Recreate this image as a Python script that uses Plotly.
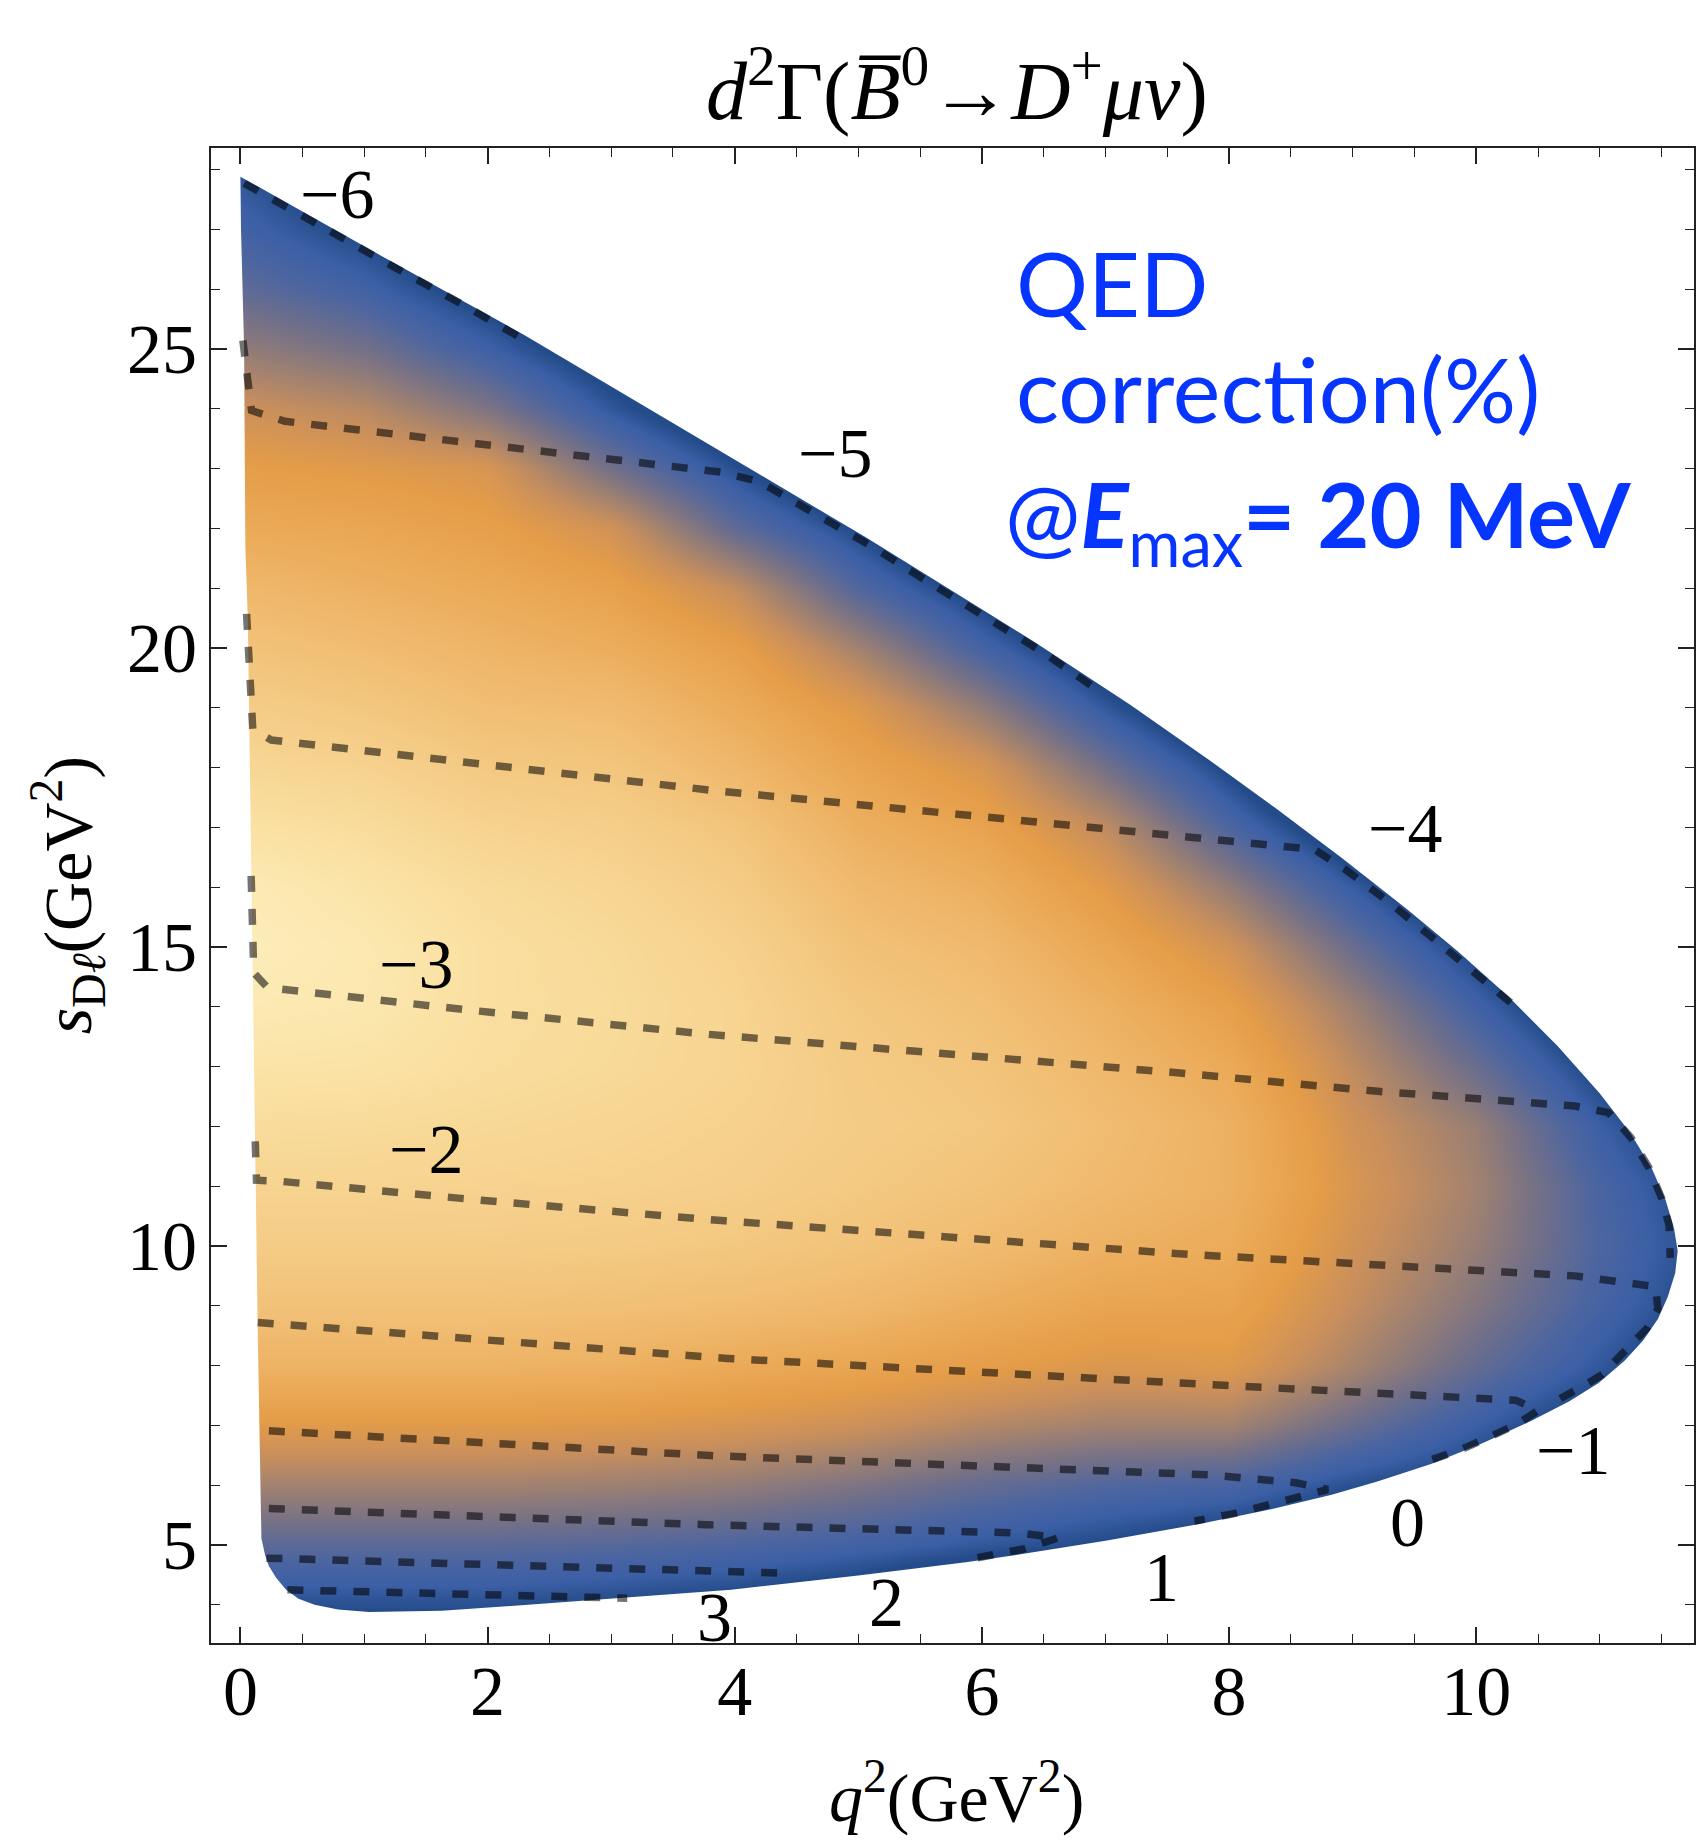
import plotly.graph_objects as go

# ---------------- values ----------------
# density-colour value (0 = blue rim, 1 = palest yellow) on a coarse grid
q2_nodes = [0, 1, 2, 3, 4, 5, 6, 7, 8, 9, 10, 11, 12]
s_nodes = [3, 4, 5, 6, 7, 8, 9, 10, 11, 12, 13, 14, 15, 16, 17, 18, 19, 20,
           21, 22, 23, 24, 25, 26, 27, 28, 29]

dens_q00 = [-0.10, 0.01, 0.13, 0.27, 0.41, 0.55, 0.64, 0.71, 0.77, 0.83, 0.89, 0.94, 0.97, 0.95,
            0.87, 0.79, 0.72, 0.65, 0.58, 0.50, 0.43, 0.35, 0.24, 0.14, 0.07, 0.02, -0.05]
dens_q01 = [-0.10, 0.01, 0.13, 0.27, 0.41, 0.55, 0.64, 0.71, 0.77, 0.82, 0.88, 0.92, 0.93, 0.89,
            0.83, 0.76, 0.68, 0.61, 0.54, 0.48, 0.41, 0.31, 0.18, 0.07, -0.02, -0.10, -0.20]
dens_q02 = [-0.10, 0.01, 0.13, 0.27, 0.41, 0.55, 0.64, 0.71, 0.76, 0.80, 0.84, 0.85, 0.85, 0.82,
            0.76, 0.69, 0.62, 0.56, 0.50, 0.44, 0.38, 0.20, 0.06, -0.05, -0.15, -0.25, -0.30]
dens_q03 = [-0.15, -0.01, 0.12, 0.26, 0.40, 0.54, 0.63, 0.70, 0.75, 0.78, 0.81, 0.82, 0.81, 0.78,
            0.73, 0.67, 0.60, 0.52, 0.45, 0.36, 0.18, 0.03, -0.08, -0.20, -0.30, -0.30, -0.30]
dens_q04 = [-0.18, -0.03, 0.10, 0.24, 0.38, 0.50, 0.61, 0.68, 0.73, 0.75, 0.77, 0.77, 0.75, 0.71,
            0.66, 0.58, 0.51, 0.44, 0.33, 0.14, 0.01, -0.12, -0.25, -0.30, -0.30, -0.30, -0.30]
dens_q05 = [-0.22, -0.08, 0.07, 0.20, 0.35, 0.47, 0.58, 0.65, 0.69, 0.71, 0.70, 0.68, 0.64, 0.59,
            0.53, 0.47, 0.40, 0.27, 0.11, -0.01, -0.15, -0.30, -0.30, -0.30, -0.30, -0.30, -0.30]
dens_q06 = [-0.25, -0.15, 0.03, 0.15, 0.30, 0.43, 0.52, 0.60, 0.65, 0.68, 0.66, 0.63, 0.59, 0.53,
            0.46, 0.38, 0.24, 0.08, -0.05, -0.20, -0.30, -0.30, -0.30, -0.30, -0.30, -0.30, -0.30]
dens_q07 = [-0.30, -0.20, -0.01, 0.11, 0.27, 0.39, 0.47, 0.54, 0.59, 0.61, 0.58, 0.54, 0.48, 0.41,
            0.32, 0.18, 0.03, -0.10, -0.25, -0.30, -0.30, -0.30, -0.30, -0.30, -0.30, -0.30, -0.30]
dens_q08 = [-0.30, -0.20, -0.06, 0.09, 0.27, 0.40, 0.46, 0.51, 0.54, 0.54, 0.50, 0.44, 0.36, 0.24,
            0.10, -0.02, -0.15, -0.30, -0.30, -0.30, -0.30, -0.30, -0.30, -0.30, -0.30, -0.30, -0.30]
dens_q09 = [-0.30, -0.25, -0.12, 0.01, 0.16, 0.28, 0.33, 0.36, 0.38, 0.36, 0.32, 0.26, 0.16, 0.04,
            -0.10, -0.25, -0.30, -0.30, -0.30, -0.30, -0.30, -0.30, -0.30, -0.30, -0.30, -0.30, -0.30]
dens_q10 = [-0.30, -0.30, -0.20, -0.04, 0.05, 0.15, 0.21, 0.25, 0.27, 0.25, 0.16, 0.07, -0.03, -0.15,
            -0.30, -0.30, -0.30, -0.30, -0.30, -0.30, -0.30, -0.30, -0.30, -0.30, -0.30, -0.30, -0.30]
dens_q11 = [-0.30, -0.30, -0.30, -0.20, -0.06, 0.03, 0.08, 0.10, 0.09, 0.05, -0.03, -0.12, -0.30, -0.30,
            -0.30, -0.30, -0.30, -0.30, -0.30, -0.30, -0.30, -0.30, -0.30, -0.30, -0.30, -0.30, -0.30]
dens_q12 = [-0.30, -0.30, -0.30, -0.30, -0.20, -0.10, -0.04, -0.02, -0.04, -0.10, -0.20, -0.30, -0.30, -0.30,
            -0.30, -0.30, -0.30, -0.30, -0.30, -0.30, -0.30, -0.30, -0.30, -0.30, -0.30, -0.30, -0.30]

# Dalitz-region rim (q^2, s_Dl)
rim_upper_q2 = [0.00, 1.11, 2.30, 3.97, 5.06, 6.41, 7.20, 7.83, 8.37, 8.91, 9.44, 9.85, 10.26,
                10.66, 11.00, 11.25, 11.42, 11.53, 11.60, 11.63]
rim_upper_s = [27.88, 26.59, 25.23, 23.19, 21.85, 20.12, 19.05, 18.14, 17.33, 16.49, 15.63, 14.93,
               14.17, 13.34, 12.55, 11.88, 11.30, 10.78, 10.30, 9.92]
rim_lower_q2 = [11.63, 11.61, 11.55, 11.47, 11.35, 11.20, 10.99, 10.75, 10.45, 10.05, 9.64, 9.20,
                8.83, 8.30, 7.76, 7.00, 6.30, 5.87, 5.00, 3.97, 3.00, 2.19, 1.63, 1.04, 0.79, 0.60,
                0.47, 0.37, 0.29, 0.23, 0.20, 0.17, 0.141, 0.115, 0.06, 0.04, 0.03, 0.005, 0.00]
rim_lower_s = [9.92, 9.55, 9.15, 8.78, 8.42, 8.08, 7.71, 7.40, 7.08, 6.70, 6.36, 6.06,
               5.84, 5.58, 5.35, 5.07, 4.84, 4.71, 4.49, 4.25, 4.10, 3.98, 3.90, 3.88, 3.92, 4.00,
               4.10, 4.25, 4.45, 4.65, 4.83, 5.11, 8.46, 12.00, 20.47, 21.70, 25.00, 27.00, 27.88]

# dashed contour lines of the QED correction (%)
cont_m6_q2 = [0.03, 0.60, 1.20, 1.80, 2.30]
cont_m6_s = [27.77, 27.10, 26.42, 25.74, 25.15]
cont_m5_q2 = [0.02, 0.05, 0.09, 0.36, 1.45, 2.54, 3.89, 4.20, 4.60, 5.09, 5.60, 6.10, 6.50, 6.92]
cont_m5_s = [25.14, 24.50, 23.97, 23.79, 23.52, 23.26, 22.94, 22.78, 22.30, 21.72, 21.06, 20.42, 19.92, 19.32]
cont_m4_q2 = [0.05, 0.07, 0.10, 0.25, 1.89, 3.81, 5.80, 7.84, 8.69, 8.95, 9.30, 9.70, 10.00, 10.33]
cont_m4_s = [20.57, 19.68, 18.64, 18.46, 18.07, 17.62, 17.22, 16.80, 16.63, 16.28, 15.74, 15.06, 14.56, 13.98]
cont_m3_q2 = [0.087, 0.10, 0.108, 0.22, 1.87, 3.78, 7.56, 9.18, 10.80, 11.07, 11.25, 11.40, 11.50, 11.56, 11.57]
cont_m3_s = [16.19, 15.40, 14.57, 14.32, 13.94, 13.54, 12.90, 12.59, 12.34, 12.23, 11.82, 11.30, 10.80, 10.35, 9.80]
cont_m2_q2 = [0.12, 0.13, 0.33, 1.97, 3.92, 7.67, 10.80, 11.26, 11.45, 11.47, 11.38, 11.22, 11.02, 10.85, 10.68]
cont_m2_s = [11.75, 11.10, 11.08, 10.76, 10.42, 9.86, 9.50, 9.37, 9.32, 8.95, 8.62, 8.28, 7.85, 7.64, 7.45]
cont_m1_q2 = [0.14, 3.94, 7.86, 10.32, 10.50, 10.33, 10.10, 9.86, 9.60]
cont_m1_s = [8.72, 8.12, 7.68, 7.42, 7.25, 7.02, 6.80, 6.58, 6.40]
cont_p0_q2 = [0.23, 3.86, 7.86, 8.54, 8.80, 8.56, 8.30, 8.03, 7.72]
cont_p0_s = [6.91, 6.49, 6.17, 6.04, 5.93, 5.80, 5.66, 5.52, 5.40]
cont_p1_q2 = [0.23, 3.76, 6.30, 6.62, 6.35, 6.12, 5.90]
cont_p1_s = [5.61, 5.34, 5.20, 5.12, 4.94, 4.84, 4.76]
cont_p2_q2 = [0.21, 3.86, 4.38, 4.46]
cont_p2_s = [4.78, 4.57, 4.53, 4.45]
cont_p3_q2 = [0.38, 3.13]
cont_p3_s = [4.25, 4.11]

label_text = ["\u22126", "\u22125", "\u22124", "\u22123", "\u22122", "\u22121", "0", "1", "2", "3"]
label_q2 = [0.78, 4.81, 9.42, 1.42, 1.50, 10.78, 9.44, 7.45, 5.23, 3.84]
label_s = [27.58, 23.25, 16.98, 14.70, 11.61, 6.58, 5.38, 4.45, 4.03, 3.78]

x_ticks = [0, 2, 4, 6, 8, 10]
y_ticks = [5, 10, 15, 20, 25]

# ---------------- figure ----------------
XL, XR = -0.238, 11.762
YB, YT = 3.361, 28.36

dens_cols = [dens_q00, dens_q01, dens_q02, dens_q03, dens_q04, dens_q05, dens_q06,
             dens_q07, dens_q08, dens_q09, dens_q10, dens_q11, dens_q12]
z = [[col[i] for col in dens_cols] for i in range(len(s_nodes))]

colorscale = [
    [0.00, "rgb(36,76,138)"],
    [0.05, "rgb(60,95,166)"],
    [0.10, "rgb(76,101,160)"],
    [0.18, "rgb(115,112,136)"],
    [0.26, "rgb(157,128,114)"],
    [0.34, "rgb(201,143,92)"],
    [0.42, "rgb(228,156,72)"],
    [0.50, "rgb(235,170,88)"],
    [0.60, "rgb(240,187,112)"],
    [0.70, "rgb(244,202,132)"],
    [0.80, "rgb(248,216,150)"],
    [0.90, "rgb(251,229,170)"],
    [1.00, "rgb(253,240,192)"],
]

fig = go.Figure()
fig.add_trace(go.Heatmap(x=q2_nodes, y=s_nodes, z=z, colorscale=colorscale, zmin=0, zmax=1,
                         zsmooth="best", showscale=False, hoverinfo="skip"))

# white masks outside the kinematic region
mask_top_x = [XL - 1, XR + 1, XR + 1] + rim_upper_q2[::-1] + [XL - 1]
mask_top_y = [YT + 1, YT + 1, rim_upper_s[-1]] + rim_upper_s[::-1] + [27.5]
mask_bot_x = [XL - 1, 0.0] + rim_lower_q2[::-1] + [11.70, XR + 1, XR + 1, XL - 1]
mask_bot_y = [28.1, 28.1] + rim_lower_s[::-1] + [10.15, 10.15, YB - 1, YB - 1]
for mx, my in ((mask_top_x, mask_top_y), (mask_bot_x, mask_bot_y)):
    fig.add_trace(go.Scatter(x=mx, y=my, mode="lines", fill="toself", fillcolor="white",
                             line=dict(width=0, color="white"), hoverinfo="skip", showlegend=False))

contours = [(cont_m6_q2, cont_m6_s), (cont_m5_q2, cont_m5_s), (cont_m4_q2, cont_m4_s),
            (cont_m3_q2, cont_m3_s), (cont_m2_q2, cont_m2_s), (cont_m1_q2, cont_m1_s),
            (cont_p0_q2, cont_p0_s), (cont_p1_q2, cont_p1_s), (cont_p2_q2, cont_p2_s),
            (cont_p3_q2, cont_p3_s)]
for cx, cy in contours:
    fig.add_trace(go.Scatter(x=cx, y=cy, mode="lines",
                             line=dict(color="rgba(0,0,0,0.55)", width=7.5, dash="16px,17px"),
                             hoverinfo="skip", showlegend=False))

serif = "Liberation Serif, Times New Roman, serif"
annotations = []
for t, lx, ly in zip(label_text, label_q2, label_s):
    annotations.append(dict(x=lx, y=ly, xref="x", yref="y", text=t, showarrow=False,
                            font=dict(family=serif, size=70, color="black"),
                            xanchor="center", yanchor="middle"))

# title and axis titles
annotations.append(dict(x=0.503, y=1.0421, xref="paper", yref="paper", showarrow=False,
                        text="<i>d</i><sup>2</sup>\u0393(<i>B\u0305</i><sup>0</sup>\u2192<i>D</i><sup>+</sup><i>\u03bc\u03bd</i>)",
                        font=dict(family=serif, size=82, color="black"),
                        xanchor="center", yanchor="middle"))
annotations.append(dict(x=0.503, y=-0.1003, xref="paper", yref="paper", showarrow=False,
                        text="<i>q</i><sup>2</sup>(GeV<sup>2</sup>)",
                        font=dict(family=serif, size=68, color="black"),
                        xanchor="center", yanchor="middle"))
annotations.append(dict(x=-0.097, y=0.5003, xref="paper", yref="paper", showarrow=False,
                        text="<i>s</i><sub>D<i>\u2113</i></sub>(GeV<sup>2</sup>)", textangle=-90,
                        font=dict(family=serif, size=68, color="black"),
                        xanchor="center", yanchor="middle"))

# blue legend text
blue = "#0535ff"
lato = "Lato, Open Sans, sans-serif"
annotations.append(dict(x=0.5415, y=0.9104, xref="paper", yref="paper", showarrow=False,
                        text="QED", font=dict(family=lato, size=90, color=blue),
                        xanchor="left", yanchor="middle"))
annotations.append(dict(x=0.5415, y=0.8395, xref="paper", yref="paper", showarrow=False,
                        text="correction(%)", font=dict(family=lato, size=90, color=blue),
                        xanchor="left", yanchor="middle"))
annotations.append(dict(x=0.5340, y=0.7512, xref="paper", yref="paper", showarrow=False,
                        text="@<b><i>E</i></b><sub>max</sub><b>= 20 MeV</b>",
                        font=dict(family=lato, size=90, color=blue),
                        xanchor="left", yanchor="middle"))

axis_common = dict(showline=True, linecolor="#222", linewidth=2, mirror="ticks",
                   ticks="inside", ticklen=16, tickwidth=1.5, tickcolor="#222",
                   showgrid=False, zeroline=False,
                   tickfont=dict(family=serif, size=70, color="black"))

fig.update_layout(
    width=1696, height=1846,
    margin=dict(l=211, r=0, t=148, b=203, pad=0),
    paper_bgcolor="white", plot_bgcolor="white",
    showlegend=False,
    annotations=annotations,
    xaxis=dict(range=[XL, XR], tickmode="array", tickvals=x_ticks,
               minor=dict(dtick=0.5, tick0=0, ticks="inside", ticklen=9, tickwidth=1.2,
                          tickcolor="#222"),
               ticklabelstandoff=-14, **axis_common),
    yaxis=dict(range=[YB, YT], tickmode="array", tickvals=y_ticks,
               minor=dict(dtick=1, tick0=0, ticks="inside", ticklen=9, tickwidth=1.2,
                          tickcolor="#222"),
               ticklabelstandoff=-2, **axis_common),
)

fig.write_html("out.html")
